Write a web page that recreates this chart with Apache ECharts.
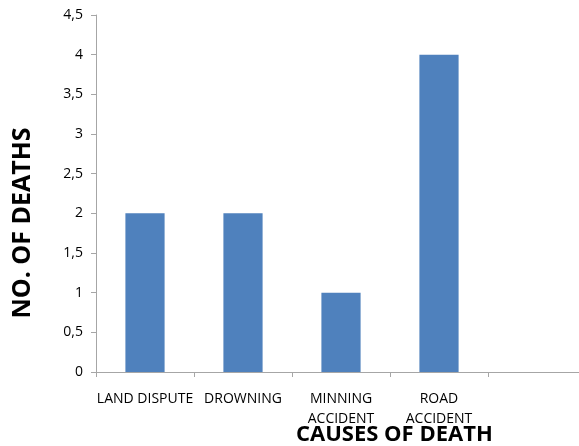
<!DOCTYPE html>
<html><head><meta charset="utf-8">
<script src="https://cdn.jsdelivr.net/npm/echarts@6/dist/echarts.min.js"></script>
<style>html,body{margin:0;padding:0;background:#fff}#c{width:579px;height:446px}</style>
</head><body><div id="c"></div>
<script>
var categories = ["LAND DISPUTE", "DROWNING", "MINNING\nACCIDENT", "ROAD\nACCIDENT", ""];
var deaths = [2, 2, 1, 4, null];
var yTicks = [0, 0.5, 1, 1.5, 2, 2.5, 3, 3.5, 4, 4.5];
var chart = echarts.init(document.getElementById('c'));
chart.setOption({
  animation: false,
  grid: {left: 96, width: 490, top: 15, height: 357, outerBoundsMode: 'none', containLabel: false},
  xAxis: {
    type: 'category', data: categories,
    axisLine: {lineStyle: {color: '#a6a6a6'}},
    axisTick: {show: true, length: 5, lineStyle: {color: '#a6a6a6'}},
    axisLabel: {color: '#000', fontFamily: 'Open Sans', fontSize: 14, margin: 17, lineHeight: 20, interval: 0}
  },
  yAxis: {
    type: 'value', min: 0, max: 4.5, interval: 0.5,
    splitLine: {show: false},
    axisLine: {show: true, lineStyle: {color: '#a6a6a6'}},
    axisTick: {show: true, length: 5, lineStyle: {color: '#a6a6a6'}},
    axisLabel: {color: '#000', fontFamily: 'Open Sans', fontSize: 14, margin: 13,
      formatter: function (v) { return String(v).replace('.', ','); }}
  },
  series: [{type: 'bar', data: deaths, barWidth: '40%', itemStyle: {color: '#4F81BD'}}],
  graphic: [
    {type: 'text', left: 10, top: 'middle', rotation: Math.PI / 2,
     style: {text: 'NO. OF DEATHS', font: 'bold 25px "Open Sans"', fill: '#000'}},
    {type: 'text', left: 296, top: 424,
     style: {text: 'CAUSES OF DEATH', font: 'bold 22px "Open Sans"', fill: '#000'}}
  ]
});
</script></body></html>
